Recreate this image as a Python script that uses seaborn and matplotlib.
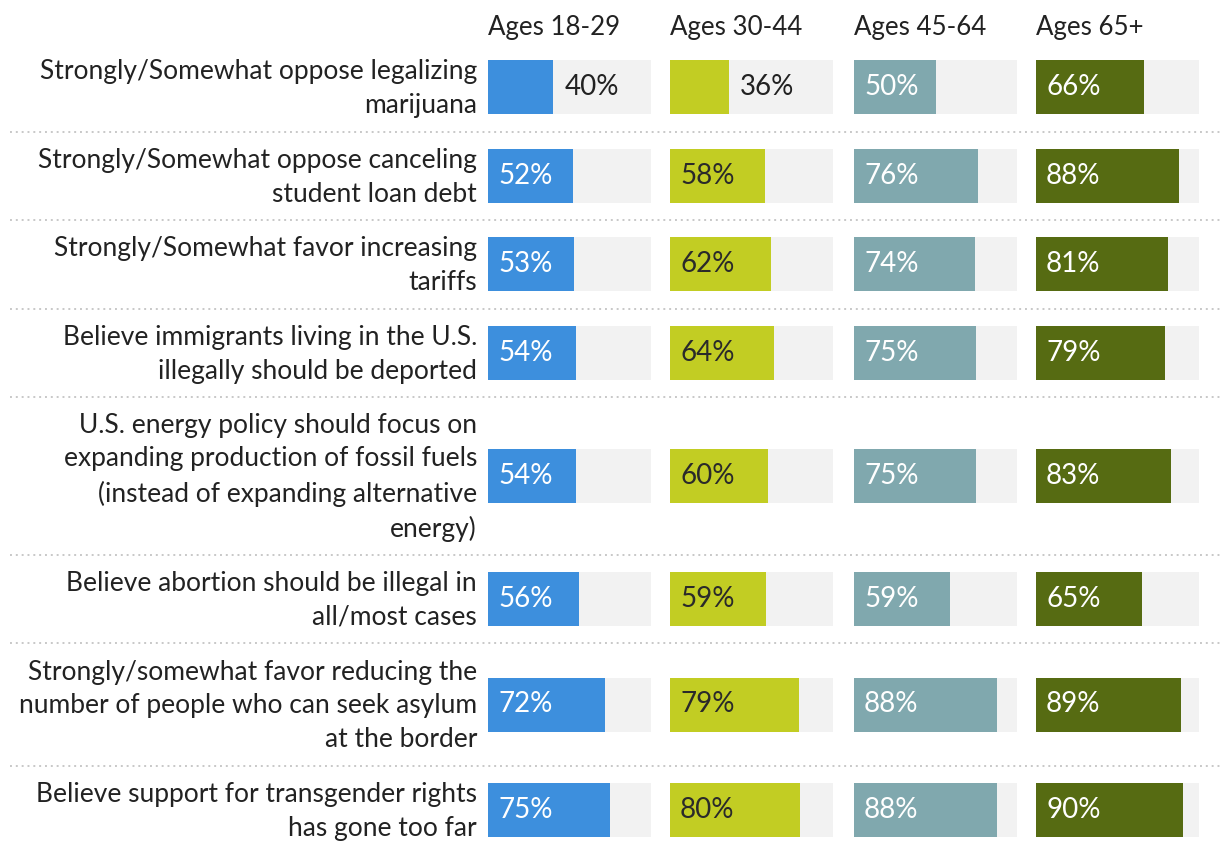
import matplotlib
matplotlib.use("Agg")
import matplotlib.pyplot as plt
import seaborn as sns
import numpy as np

sns.set_theme(style="white")
plt.rcParams['font.family'] = ['Lato', 'DejaVu Sans']

# ---- data ----
statements = [
    "Strongly/Somewhat oppose legalizing\nmarijuana",
    "Strongly/Somewhat oppose canceling\nstudent loan debt",
    "Strongly/Somewhat favor increasing\ntariffs",
    "Believe immigrants living in the U.S.\nillegally should be deported",
    "U.S. energy policy should focus on\nexpanding production of fossil fuels\n(instead of expanding alternative\nenergy)",
    "Believe abortion should be illegal in\nall/most cases",
    "Strongly/somewhat favor reducing the\nnumber of people who can seek asylum\nat the border",
    "Believe support for transgender rights\nhas gone too far",
]
age_groups = ["Ages 18-29", "Ages 30-44", "Ages 45-64", "Ages 65+"]
ages_18_29 = [40, 52, 53, 54, 54, 56, 72, 75]
ages_30_44 = [36, 58, 62, 64, 60, 59, 79, 80]
ages_45_64 = [50, 76, 74, 75, 75, 59, 88, 88]
ages_65_up = [66, 88, 81, 79, 83, 65, 89, 90]
series = [ages_18_29, ages_30_44, ages_45_64, ages_65_up]

# ---- style ----
colors = ["#3d8fdd", "#c2cd23", "#80a8ae", "#566b12"]
inside_text = ["white", "#2a2a2a", "white", "white"]
track_color = "#f2f2f2"
text_color = "#222222"

W, H = 1220, 856
fig = plt.figure(figsize=(W / 100, H / 100), dpi=100)

# row layout derived from number of label lines
n_lines = [s.count("\n") + 1 for s in statements]
row_h = [88.5 + (n - 2) * 34.5 for n in n_lines]
top0 = 43
tops = top0 + np.concatenate([[0], np.cumsum(row_h)[:-1]])
centers = tops + np.array(row_h) / 2
bar_px = 54
min_gap = np.min(np.diff(centers))
width_frac = bar_px / min_gap

# background axes for labels and separators (pixel coordinates)
bg = fig.add_axes([0, 0, 1, 1])
bg.set_xlim(0, W)
bg.set_ylim(H, 0)
bg.axis("off")

for t in tops[1:]:
    bg.plot([10, W], [t, t], color="#c8c8c8", lw=1.4, ls=(0, (1, 2)))

for s, c in zip(statements, centers):
    bg.text(477, c + 1.5, s, ha="right", va="center", multialignment="right",
            fontsize=19, color=text_color, linespacing=1.43)

col_left = [488, 670, 854, 1036]
col_w = 163
for i, (name, vals) in enumerate(zip(age_groups, series)):
    ax = fig.add_axes([col_left[i] / W, 0, col_w / W, 1])
    sns.barplot(x=[100] * len(vals), y=centers, orient="y", native_scale=True,
                width=width_frac, color=track_color, ax=ax, errorbar=None,
                saturation=1, linewidth=0)
    sns.barplot(x=vals, y=centers, orient="y", native_scale=True,
                width=width_frac, color=colors[i], ax=ax, errorbar=None,
                saturation=1, linewidth=0)
    ax.set_xlim(0, 100)
    ax.set_ylim(H, 0)
    ax.axis("off")
    px = 100 / col_w  # one pixel in data units
    for v, c in zip(vals, centers):
        if v >= 45:
            ax.text(10 * px, c, f"{v}%", ha="left", va="center",
                    fontsize=20, color=inside_text[i])
        else:
            ax.text(v + 11 * px, c, f"{v}%", ha="left", va="center",
                    fontsize=20, color=text_color)
    ax.text(0, 27, name, ha="left", va="center", fontsize=18.6, color=text_color)

fig.savefig("out.png", dpi=100)
